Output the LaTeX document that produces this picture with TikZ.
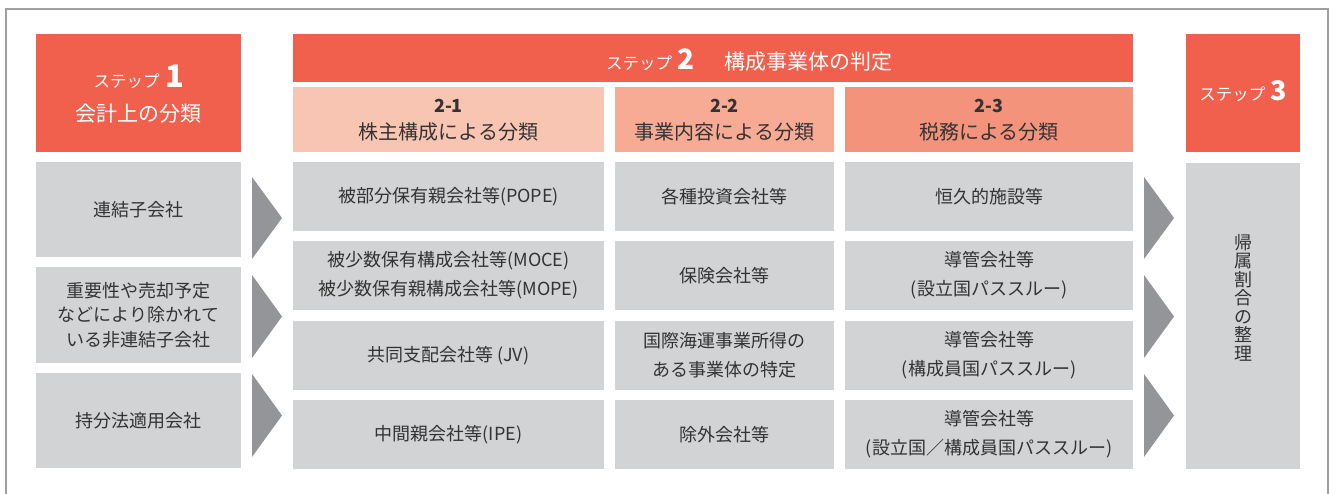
\documentclass[tikz,border=0pt]{standalone}
\usepackage{fontspec}
\newfontfamily\jp{Noto Sans CJK JP}
\newfontfamily\num{Noto Sans CJK JP}
\definecolor{stepred}{HTML}{F0604C}
\definecolor{subA}{HTML}{F9C5B3}
\definecolor{subB}{HTML}{F7AB94}
\definecolor{subC}{HTML}{F4937B}
\definecolor{cellgray}{HTML}{D1D3D4}
\definecolor{arrowgray}{HTML}{939598}
\definecolor{framegray}{HTML}{A0A0A0}
\definecolor{txt}{HTML}{333333}
\tikzset{
  area/.style={inner sep=0pt, outer sep=0pt},
  redbox/.style={area, fill=stepred},
  subbox/.style={area},
  cell/.style={area, fill=cellgray, text=txt, align=center, font=\jp\fontsize{18}{29}\selectfont},
  leftcell/.style={cell, font=\jp\fontsize{18}{24.5}\selectfont},
  whitetxt/.style={inner sep=0pt, outer sep=0pt, text=white},
  darktxt/.style={inner sep=0pt, outer sep=0pt, text=txt},
  chev/.style={fill=arrowgray},
}
\newcommand\mkbox[7]{\node[#1, minimum width={#5pt-#3pt}, minimum height={#6pt-#4pt}] (#2) at ({(#3+#5)/2},{(#4+#6)/2}) {#7};}
\newcommand\stp{\jp\fontsize{16.5}{16.5}\selectfont ステップ}
\begin{document}
\begin{tikzpicture}[x=1pt,y=-1pt]
\useasboundingbox (0,0) rectangle (1335,494);
\draw[framegray, line width=1.3pt] (6,494) -- (6,9) -- (1328,9) -- (1328,494);

% headers
\mkbox{redbox}{s1}{36}{34}{241}{152}{}
\mkbox{redbox}{s2}{293}{34}{1133}{82}{}
\mkbox{redbox}{s3}{1186}{34}{1300}{152}{}
\mkbox{subbox, fill=subA}{h1}{293}{87}{604}{152}{}
\mkbox{subbox, fill=subB}{h2}{615}{87}{834}{152}{}
\mkbox{subbox, fill=subC}{h3}{845}{87}{1133}{152}{}

\node[whitetxt, anchor=base] (s1a) at (139,88) {\stp\hspace{6pt}{\num\bfseries\fontsize{31}{31}\selectfont 1}};
\node[whitetxt, anchor=base] (s1b) at (138.5,122) {\jp\fontsize{21}{21}\selectfont 会計上の分類};
\node[whitetxt, anchor=base west] (s2a) at (606,70) {\stp\hspace{5pt}{\num\bfseries\fontsize{28}{28}\selectfont 2}\hspace{30pt}{\jp\fontsize{21}{21}\selectfont 構成事業体の判定}};
\node[whitetxt, anchor=base] (s3a) at (1243,101) {\stp\hspace{5pt}{\num\bfseries\fontsize{27}{27}\selectfont 3}};

\node[darktxt, anchor=base] (h1a) at (448.5,113) {\num\bfseries\fontsize{18}{18}\selectfont 2-1};
\node[darktxt, anchor=base] (h1b) at (448.5,140) {\jp\fontsize{20}{20}\selectfont 株主構成による分類};
\node[darktxt, anchor=base] (h2a) at (724.5,113) {\num\bfseries\fontsize{18}{18}\selectfont 2-2};
\node[darktxt, anchor=base] (h2b) at (724.5,140) {\jp\fontsize{20}{20}\selectfont 事業内容による分類};
\node[darktxt, anchor=base] (h3a) at (989,113) {\num\bfseries\fontsize{18}{18}\selectfont 2-3};
\node[darktxt, anchor=base] (h3b) at (989,140) {\jp\fontsize{20}{20}\selectfont 税務による分類};

% left column
\mkbox{leftcell}{l1}{36}{162}{241}{257}{連結子会社}
\mkbox{leftcell}{l2}{36}{267.5}{241}{362.5}{重要性や売却予定\\などにより除かれて\\いる非連結子会社}
\mkbox{leftcell}{l3}{36}{373}{241}{468}{持分法適用会社}

% step 2 grid
\mkbox{cell}{a1}{293}{162}{604}{231}{被部分保有親会社等(POPE)}
\mkbox{cell}{a2}{293}{241}{604}{310}{被少数保有構成会社等(MOCE)\\被少数保有親構成会社等(MOPE)}
\mkbox{cell}{a3}{293}{321}{604}{390}{共同支配会社等 (JV)}
\mkbox{cell}{a4}{293}{400}{604}{469}{中間親会社等(IPE)}
\mkbox{cell}{b1}{615}{162}{834}{231}{各種投資会社等}
\mkbox{cell}{b2}{615}{241}{834}{310}{保険会社等}
\mkbox{cell}{b3}{615}{321}{834}{390}{国際海運事業所得の\\ある事業体の特定}
\mkbox{cell}{b4}{615}{400}{834}{469}{除外会社等}
\mkbox{cell}{c1}{845}{162}{1133}{231}{恒久的施設等}
\mkbox{cell}{c2}{845}{241}{1133}{310}{導管会社等\\(設立国パススルー)}
\mkbox{cell}{c3}{845}{321}{1133}{390}{導管会社等\\(構成員国パススルー)}
\mkbox{cell}{c4}{845}{400}{1133}{469}{導管会社等\\(設立国／構成員国パススルー)}

% step 3 box
\mkbox{cell}{r1}{1186}{163}{1300}{469}{}
\node[darktxt, align=center, font=\jp\fontsize{18}{18.5}\selectfont] (s3v) at (1243,297.5) {帰\\属\\割\\合\\の\\整\\理};

% chevrons
\fill[chev] (252,177) -- (282,218) -- (252,259) -- cycle;
\fill[chev] (252,275) -- (282,316.5) -- (252,358) -- cycle;
\fill[chev] (252,374) -- (282,415.5) -- (252,457) -- cycle;
\fill[chev] (1144,177) -- (1174,218) -- (1144,259) -- cycle;
\fill[chev] (1144,275) -- (1174,316.5) -- (1144,358) -- cycle;
\fill[chev] (1144,374) -- (1174,415.5) -- (1144,457) -- cycle;
\end{tikzpicture}
\end{document}
